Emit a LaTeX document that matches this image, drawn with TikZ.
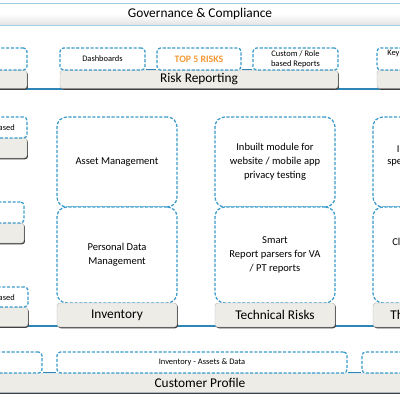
\documentclass[tikz,border=0pt]{standalone}
\usepackage{fontspec}
\setmainfont{Carlito}
\usetikzlibrary{shadows}
\definecolor{dashblue}{HTML}{3A9AC9}
\definecolor{shelfblue}{HTML}{2F86B6}
\definecolor{govblue}{HTML}{9FCDE2}
\definecolor{stone}{HTML}{EEECE7}
\definecolor{riskorange}{HTML}{F39A37}
\newlength\px
\setlength\px{0.025cm}
\begin{document}
\begin{tikzpicture}[x=0.025cm,y=-0.025cm,
  dashbox/.style={draw=dashblue, line width=0.9pt, dash pattern=on 2.2pt off 1.2pt,
    rounded corners=2.5pt, fill=white, inner sep=1pt, align=center,
    font=\fontsize{6}{7}\selectfont},
  bigbox/.style={dashbox, rounded corners=7pt, font=\fontsize{7.5}{10}\selectfont},
  basebar/.style={fill=stone, draw=gray!55, line width=0.3pt, rounded corners=2pt,
    drop shadow={shadow xshift=0.7pt, shadow yshift=-0.9pt, fill=black!75, opacity=1},
    inner sep=0pt, font=\fontsize{9.5}{11}\selectfont},
  govbar/.style={draw=govblue, line width=0.6pt, top color=white, bottom color=gray!22,
    middle color=white, inner sep=0pt, font=\fontsize{9.5}{11}\selectfont},
  frag/.style={inner sep=0pt, anchor=west},
  shelf/.style={shelfblue, line width=1.4pt},
  link/.style={shelfblue, line width=0.9pt}]
\useasboundingbox (0,0) rectangle (400,400);
\clip (0,0) rectangle (400,400);
\fill[white] (0,0) rectangle (400,400);

% governance
\node[govbar, minimum width=420\px, minimum height=22\px] (gov) at (200,14) {Governance \& Compliance};

% shelves
\coordinate (shelfAw) at (-10,89);
\coordinate (shelfAe) at (410,89);
\coordinate (shelfBw) at (-10,326);
\coordinate (shelfBe) at (410,326);
\draw[shelf] (shelfAw) -- (shelfAe);
\draw[shelf] (shelfBw) -- (shelfBe);

% risk reporting row
\node[basebar, minimum width=47\px, minimum height=18\px] (leftbar) at (3.5,79.5) {};
\node[basebar, minimum width=278\px, minimum height=18\px] (riskbar) at (199,79.5) {Risk Reporting};
\node[basebar, minimum width=53\px, minimum height=18\px] (rightbar) at (403.5,79.5) {};

\node[dashbox, minimum width=47\px, minimum height=22\px] (leftdash) at (3.5,59) {};
\node[dashbox, minimum width=85\px, minimum height=22\px] (dashboards) at (102.5,59) {Dashboards};
\node[dashbox, minimum width=84\px, minimum height=22\px, text=riskorange,
  font=\fontsize{7}{8}\selectfont\bfseries] (topfive) at (199,59) {TOP 5 RISKS};
\node[dashbox, minimum width=85\px, minimum height=22\px] (custom) at (295.5,59) {Custom / Role\\ based Reports};
\node[dashbox, minimum width=53\px, minimum height=22\px] (rightdash) at (403.5,59) {};
\node[frag, font=\fontsize{6}{7}\selectfont] (keytxt) at (387,53) {Key};

\draw[link] ([yshift=1pt]dashboards.south east) -- ([yshift=1pt]topfive.south west);
\draw[link] ([yshift=1pt]topfive.south east) -- ([yshift=1pt]custom.south west);

% left column
\node[basebar, minimum width=47\px, minimum height=20\px] (lbarA) at (3.5,148) {};
\node[dashbox, minimum width=47\px, minimum height=21\px] (ldashA) at (3.5,127.5) {};
\node[frag, anchor=east, font=\fontsize{6}{7}\selectfont] (ltxtA) at (15,127.5) {ased};
\node[basebar, minimum width=44\px, minimum height=20\px] (lbarB) at (2,233) {};
\node[dashbox, minimum width=44\px, minimum height=21\px] (ldashB) at (2,212.5) {};
\node[basebar, minimum width=48\px, minimum height=19\px] (lbarC) at (4,317) {};
\node[dashbox, minimum width=48\px, minimum height=20\px] (ldashC) at (4,297) {};
\node[frag, anchor=east, font=\fontsize{6}{7}\selectfont] (ltxtC) at (15,297.5) {ased};

% inventory column
\node[bigbox, minimum width=120\px, minimum height=90\px] (asset) at (117,162) {Asset Management};
\node[bigbox, minimum width=120\px, minimum height=96\px] (personal) at (117,255) {Personal Data\\ Management};
\node[basebar, minimum width=120\px, minimum height=24\px] (inventory) at (117,315) {Inventory};

% technical risks column
\node[bigbox, minimum width=120\px, minimum height=90\px] (inbuilt) at (275,162) {Inbuilt module for\\ website / mobile app\\ privacy testing};
\node[bigbox, minimum width=120\px, minimum height=96\px] (parsers) at (275,255) {Smart\\ Report parsers for VA\\ / PT reports};
\node[basebar, minimum width=120\px, minimum height=24\px] (techrisks) at (275,315) {Technical Risks};

% right column
\node[bigbox, minimum width=120\px, minimum height=90\px] (rtop) at (433,162) {};
\node[bigbox, minimum width=120\px, minimum height=96\px] (rbottom) at (433,255) {};
\node[basebar, minimum width=120\px, minimum height=24\px] (rbar) at (433,315) {};
\node[frag, font=\fontsize{7.5}{10}\selectfont] (rtxtA) at (396.5,149) {I};
\node[frag, font=\fontsize{7.5}{10}\selectfont] (rtxtB) at (387,163) {spe};
\node[frag, font=\fontsize{7.5}{10}\selectfont] (rtxtC) at (392,242) {Cl};
\node[frag, font=\fontsize{9.5}{11}\selectfont] (rtxtD) at (390,315) {Th};

% customer profile row
\node[basebar, draw=govblue, minimum width=420\px, minimum height=19\px] (customer) at (200,383) {Customer Profile};
\node[dashbox, minimum width=62\px, minimum height=21\px] (bdashA) at (11,362.5) {};
\node[dashbox, minimum width=290\px, minimum height=21\px] (bdashB) at (202,362.5) {Inventory - Assets \& Data};
\node[dashbox, minimum width=68\px, minimum height=21\px] (bdashC) at (396,362.5) {};
\draw[link] ([yshift=1pt]bdashA.south east) -- ([yshift=1pt]bdashB.south west);
\draw[link] ([yshift=1pt]bdashB.south east) -- ([yshift=1pt]bdashC.south west);
\end{tikzpicture}
\end{document}
